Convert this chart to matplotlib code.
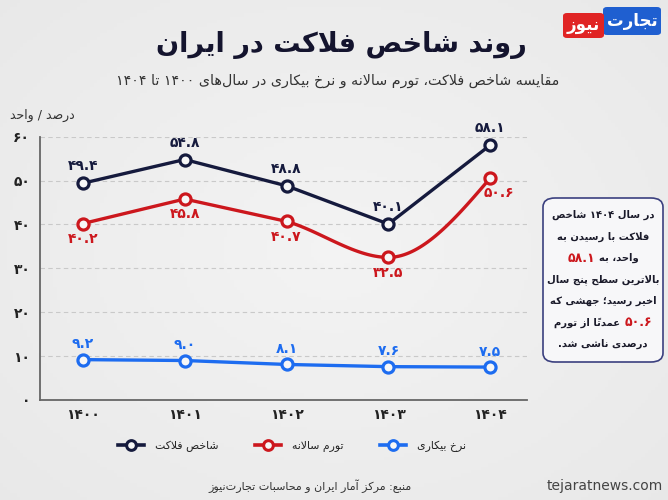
import numpy as np
import matplotlib
matplotlib.use('Agg')
import matplotlib.pyplot as plt
from matplotlib.lines import Line2D
from matplotlib.patches import FancyBboxPatch
from matplotlib.offsetbox import TextArea, HPacker, AnnotationBbox

# ---------------- data ----------------
years = ['۱۴۰۰', '۱۴۰۱', '۱۴۰۲', '۱۴۰۳', '۱۴۰۴']
misery = [49.4, 54.8, 48.8, 40.1, 58.1]
inflation = [40.2, 45.8, 40.7, 32.5, 50.6]
unemployment = [9.2, 9.0, 8.1, 7.6, 7.5]
yticks = [0, 10, 20, 30, 40, 50, 60]
series_names = ['شاخص فلاکت', 'تورم سالانه', 'نرخ بیکاری']

title = 'روند شاخص فلاکت در ایران'
subtitle = 'مقایسه شاخص فلاکت، تورم سالانه و نرخ بیکاری در سال\u200cهای ۱۴۰۰ تا ۱۴۰۴'
unit_label = 'درصد / واحد'
source = 'منبع: مرکز آمار ایران و محاسبات تجارت\u200cنیوز'
site = 'tejaratnews.com'
logo_blue = 'تجارت'
logo_red = 'نیوز'

# ---------------- minimal Persian shaping ----------------
DUAL = {
    'ب': '\uFE8F\uFE90\uFE91\uFE92', 'پ': '\uFB56\uFB57\uFB58\uFB59',
    'ت': '\uFE95\uFE96\uFE97\uFE98', 'ث': '\uFE99\uFE9A\uFE9B\uFE9C',
    'ج': '\uFE9D\uFE9E\uFE9F\uFEA0', 'چ': '\uFB7A\uFB7B\uFB7C\uFB7D',
    'ح': '\uFEA1\uFEA2\uFEA3\uFEA4', 'خ': '\uFEA5\uFEA6\uFEA7\uFEA8',
    'س': '\uFEB1\uFEB2\uFEB3\uFEB4', 'ش': '\uFEB5\uFEB6\uFEB7\uFEB8',
    'ص': '\uFEB9\uFEBA\uFEBB\uFEBC', 'ض': '\uFEBD\uFEBE\uFEBF\uFEC0',
    'ط': '\uFEC1\uFEC2\uFEC3\uFEC4', 'ظ': '\uFEC5\uFEC6\uFEC7\uFEC8',
    'ع': '\uFEC9\uFECA\uFECB\uFECC', 'غ': '\uFECD\uFECE\uFECF\uFED0',
    'ف': '\uFED1\uFED2\uFED3\uFED4', 'ق': '\uFED5\uFED6\uFED7\uFED8',
    'ک': '\uFB8E\uFB8F\uFB90\uFB91', 'گ': '\uFB92\uFB93\uFB94\uFB95',
    'ل': '\uFEDD\uFEDE\uFEDF\uFEE0', 'م': '\uFEE1\uFEE2\uFEE3\uFEE4',
    'ن': '\uFEE5\uFEE6\uFEE7\uFEE8', 'ه': '\uFEE9\uFEEA\uFEEB\uFEEC',
    'ی': '\uFBFC\uFBFD\uFBFE\uFBFF',
}
RIGHT = {
    'ا': '\uFE8D\uFE8E', 'آ': '\uFE81\uFE82', 'د': '\uFEA9\uFEAA',
    'ذ': '\uFEAB\uFEAC', 'ر': '\uFEAD\uFEAE', 'ز': '\uFEAF\uFEB0',
    'ژ': '\uFB8A\uFB8B', 'و': '\uFEED\uFEEE',
}
LTR_CHARS = set('۰۱۲۳۴۵۶۷۸۹0123456789.')


def shape(text):
    text = text.replace('\u064A', '\u06CC').replace('\u0643', '\u06A9')
    chars = list(text)
    n = len(chars)

    def ismark(c):
        return '\u064B' <= c <= '\u065F' or c == '\u0670'

    def neighbor(i, step):
        j = i + step
        while 0 <= j < n and ismark(chars[j]):
            j += step
        return j if 0 <= j < n else None

    out = []
    skip = set()
    for i, c in enumerate(chars):
        if i in skip:
            continue
        if ismark(c):
            if out:
                out[-1] += c
            continue
        if c == '\u200c':
            continue
        if c in DUAL or c in RIGHT:
            p = neighbor(i, -1)
            prev = chars[p] if p is not None else None
            jp = prev in DUAL
            q = neighbor(i, 1)
            nxt = chars[q] if q is not None else None
            if c == 'ل' and nxt in ('ا', 'آ'):
                lig = ('\uFEFB', '\uFEFC') if nxt == 'ا' else ('\uFEF5', '\uFEF6')
                out.append(lig[1] if jp else lig[0])
                skip.add(q)
                continue
            jn = (c in DUAL) and (nxt in DUAL or nxt in RIGHT)
            forms = DUAL.get(c) or RIGHT[c]
            if jp and jn:
                f = forms[3]
            elif jp:
                f = forms[1]
            elif jn:
                f = forms[2]
            else:
                f = forms[0]
            out.append(f)
        else:
            out.append(c)
    out.reverse()
    res, run = [], []
    for cl in out:
        if cl and cl[0] in LTR_CHARS:
            run.append(cl)
        else:
            if run:
                res.extend(reversed(run))
                run = []
            res.append(cl)
    if run:
        res.extend(reversed(run))
    return ''.join(res)


def fa(s):
    return str(s).translate(str.maketrans('0123456789', '۰۱۲۳۴۵۶۷۸۹'))


plt.rcParams['font.family'] = ['DejaVu Sans']

NAVY = '#151a3d'
RED = '#cc171d'
BLUE = '#1d6cf0'
BG = '#ececec'

W, H = 668, 500
fig = plt.figure(figsize=(W / 100, H / 100), dpi=100, facecolor=BG)


def fx(px):
    return px / W


def fy(py):
    return 1 - py / H


# soft lighter centre in the background
bgax = fig.add_axes([0, 0, 1, 1], zorder=-10)
bgax.axis('off')
gx, gy = np.meshgrid(np.linspace(-1, 1, 200), np.linspace(-1, 1, 150))
rr = np.sqrt(gx**2 + gy**2)
shade = 0.955 - 0.03 * np.clip(rr, 0, 1.4)
bgax.imshow(np.dstack([shade, shade, shade]), extent=[0, 1, 0, 1], aspect='auto')

ax = fig.add_axes([fx(40), fy(400), fx(527) - fx(40), fy(136.7) - fy(400)])
ax.set_facecolor('none')
x = np.arange(len(years))
ax.set_xlim(-0.42, 4.36)
ax.set_ylim(0, 60)

for yv in yticks[1:]:
    ax.axhline(yv, color='#c9c9c9', lw=0.8, ls=(0, (4, 3)), zorder=0)

for s in ['top', 'right']:
    ax.spines[s].set_visible(False)
for s in ['left', 'bottom']:
    ax.spines[s].set_color('#666666')
    ax.spines[s].set_linewidth(1.3)

ax.set_yticks(yticks)
ax.set_yticklabels([fa(v) for v in yticks], fontsize=10, fontweight='bold', color='#222222')
ax.set_xticks(x)
ax.set_xticklabels(years, fontsize=10, fontweight='bold', color='#222222')
ax.tick_params(axis='y', length=0, pad=7)
ax.tick_params(axis='x', length=0, pad=6)


# smooth (monotone) path for the inflation line on its later segments
def monotone_slopes(xs, ys):
    xs = np.asarray(xs, float)
    ys = np.asarray(ys, float)
    h = np.diff(xs)
    d = np.diff(ys) / h
    m = np.zeros_like(ys)
    for i in range(1, len(ys) - 1):
        p = (d[i - 1] * h[i] + d[i] * h[i - 1]) / (h[i - 1] + h[i])
        m[i] = (np.sign(d[i - 1]) + np.sign(d[i])) * min(abs(d[i - 1]), abs(d[i]), 0.5 * abs(p))
    m[0] = (3 * d[0] - m[1]) / 2
    m[-1] = (3 * d[-1] - m[-2]) / 2
    return m


def curve_path(xs, ys, smooth_from=2):
    xs = np.asarray(xs, float)
    ys = np.asarray(ys, float)
    m = monotone_slopes(xs, ys)
    px, py = [xs[0]], [ys[0]]
    for i in range(len(xs) - 1):
        if i < smooth_from:
            px.append(xs[i + 1])
            py.append(ys[i + 1])
        else:
            hh = xs[i + 1] - xs[i]
            t = np.linspace(0, 1, 40)[1:]
            h00 = 2 * t**3 - 3 * t**2 + 1
            h10 = t**3 - 2 * t**2 + t
            h01 = -2 * t**3 + 3 * t**2
            h11 = t**3 - t**2
            yy = h00 * ys[i] + h10 * hh * m[i] + h01 * ys[i + 1] + h11 * hh * m[i + 1]
            px.extend(xs[i] + t * hh)
            py.extend(yy)
    return np.array(px), np.array(py)


lw = 2.4
mk = dict(marker='o', ms=8, mfc='#f7f7f7', mew=2.3, ls='none', zorder=5)

ax.plot(x, misery, color=NAVY, lw=lw, zorder=4, solid_capstyle='round')
ax.plot(x, misery, mec=NAVY, **mk)
cx, cy = curve_path(x, inflation)
ax.plot(cx, cy, color=RED, lw=lw, zorder=4, solid_capstyle='round')
ax.plot(x, inflation, mec=RED, **mk)
ax.plot(x, unemployment, color=BLUE, lw=lw, zorder=4, solid_capstyle='round')
ax.plot(x, unemployment, mec=BLUE, **mk)

lab = dict(fontsize=10, fontweight='bold', ha='center', textcoords='offset points')
for xi, v in zip(x, misery):
    ax.annotate(fa(f'{v:.1f}'), (xi, v), xytext=(0, 7), va='bottom', color=NAVY, **lab)
for i, (xi, v) in enumerate(zip(x, inflation)):
    dx = 6 if i == len(x) - 1 else 0
    ax.annotate(fa(f'{v:.1f}'), (xi, v), xytext=(dx, -6), va='top', color=RED, **lab)
for xi, v in zip(x, unemployment):
    ax.annotate(fa(f'{v:.1f}'), (xi, v), xytext=(0, 6), va='bottom', color=BLUE, **lab)

# legend
handles = [
    Line2D([], [], color=NAVY, lw=2.6, marker='o', ms=7, mfc='#f7f7f7', mec=NAVY, mew=2.2),
    Line2D([], [], color=RED, lw=2.6, marker='o', ms=7, mfc='#f7f7f7', mec=RED, mew=2.2),
    Line2D([], [], color=BLUE, lw=2.6, marker='o', ms=7, mfc='#f7f7f7', mec=BLUE, mew=2.2),
]
fig.legend(handles, [shape(s) for s in series_names], loc='center',
           bbox_to_anchor=(fx(292), fy(446)), ncol=3, frameon=False, fontsize=7.8,
           handlelength=2.4, handletextpad=1.0, columnspacing=3.4, labelcolor='#222222')

# titles
fig.text(fx(341), fy(45), shape(title), fontsize=19.5, fontweight='bold', color='#14142e',
         ha='center', va='center')
fig.text(fx(338), fy(81), shape(subtitle), fontsize=10.3, color='#333333', ha='center', va='center')
fig.text(fx(42), fy(115), shape(unit_label), fontsize=9, color='#333333', ha='center', va='center')

# logo
fig.patches.append(FancyBboxPatch((fx(603), fy(35)), fx(661) - fx(603), fy(7) - fy(35),
                                  boxstyle='round,pad=0,rounding_size=0.006',
                                  transform=fig.transFigure, facecolor='#1f5fd0', edgecolor='none'))
fig.patches.append(FancyBboxPatch((fx(563), fy(38)), fx(604) - fx(563), fy(13) - fy(38),
                                  boxstyle='round,pad=0,rounding_size=0.006',
                                  transform=fig.transFigure, facecolor='#e02424', edgecolor='none'))
fig.text(fx(632), fy(21), shape(logo_blue), fontsize=12, fontweight='bold', color='white',
         ha='center', va='center')
fig.text(fx(583), fy(25.5), shape(logo_red), fontsize=12, fontweight='bold', color='white',
         ha='center', va='center')

# annotation box
fig.patches.append(FancyBboxPatch((fx(543), fy(362)), fx(663) - fx(543), fy(198) - fy(362),
                                  boxstyle='round,pad=0,rounding_size=0.018',
                                  transform=fig.transFigure, facecolor='#f7f7f9',
                                  edgecolor='#3b407f', lw=1.2))

box_lines = [
    [('در سال ۱۴۰۴ شاخص', NAVY)],
    [('فلاکت با رسیدن به', NAVY)],
    [('۵۸.۱', RED), ('واحد، به', NAVY)],
    [('بالاترین سطح پنج سال', NAVY)],
    [('اخیر رسید؛ جهشی که', NAVY)],
    [('عمدتاً از تورم', NAVY), ('۵۰.۶', RED)],
    [('درصدی ناشی شد.', NAVY)],
]
line_y = [215, 236.5, 258, 279.5, 301, 322.5, 344]
for parts, yy in zip(box_lines, line_y):
    areas = []
    for t, c in parts:
        if c == RED:
            tp = dict(color=c, fontsize=9, fontweight='bold')
        else:
            tp = dict(color='#1a1a2a', fontsize=7.2, fontweight='bold')
        areas.append(TextArea(shape(t), textprops=tp))
    pack = HPacker(children=areas, align='center', pad=0, sep=3)
    ab = AnnotationBbox(pack, (fx(603), fy(yy)), xycoords='figure fraction',
                        frameon=False, box_alignment=(0.5, 0.5), pad=0)
    fig.add_artist(ab)

# footer
fig.text(fx(310), fy(486), shape(source), fontsize=8, color='#333333', ha='center', va='center')
fig.text(fx(605), fy(486), site, fontsize=10, color='#444444', ha='center', va='center')

fig.savefig('out.png', dpi=100, facecolor=BG)
